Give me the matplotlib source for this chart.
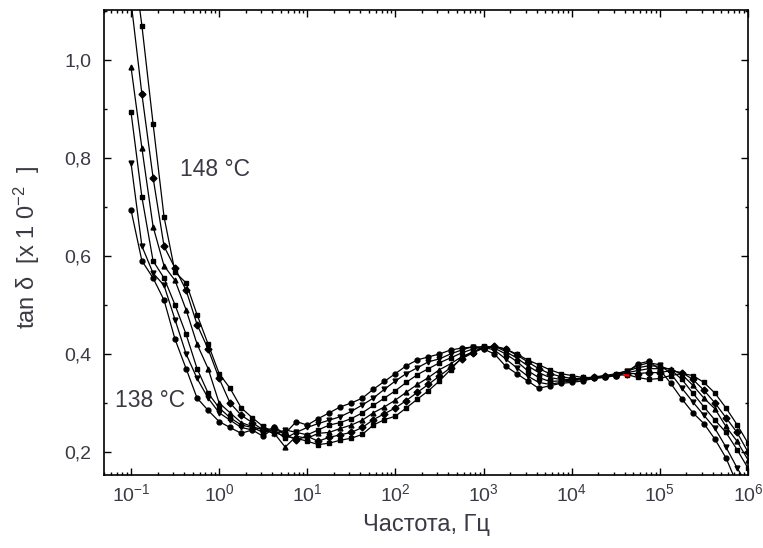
import numpy as np
import matplotlib.pyplot as plt
from matplotlib.ticker import MultipleLocator, LogLocator, FuncFormatter, NullFormatter

plt.rcParams['font.family'] = ['Liberation Sans', 'DejaVu Sans']
plt.rcParams['mathtext.fontset'] = 'custom'
plt.rcParams['mathtext.rm'] = 'Liberation Sans'
plt.rcParams['mathtext.it'] = 'Liberation Sans:italic'

# measurement frequencies, Hz (8 points per decade)
freq = [1.0e-1, 1.33e-1, 1.78e-1, 2.37e-1, 3.16e-1, 4.22e-1, 5.62e-1, 7.5e-1,
        1.0e0, 1.33e0, 1.78e0, 2.37e0, 3.16e0, 4.22e0, 5.62e0, 7.5e0,
        1.0e1, 1.33e1, 1.78e1, 2.37e1, 3.16e1, 4.22e1, 5.62e1, 7.5e1,
        1.0e2, 1.33e2, 1.78e2, 2.37e2, 3.16e2, 4.22e2, 5.62e2, 7.5e2,
        1.0e3, 1.33e3, 1.78e3, 2.37e3, 3.16e3, 4.22e3, 5.62e3, 7.5e3,
        1.0e4, 1.33e4, 1.78e4, 2.37e4, 3.16e4, 4.22e4, 5.62e4, 7.5e4,
        1.0e5, 1.33e5, 1.78e5, 2.37e5, 3.16e5, 4.22e5, 5.62e5, 7.5e5,
        1.0e6]

# tan delta [x10^-2] for 138 ... 148 C
tan_138 = [0.694, 0.590, 0.555, 0.510, 0.430, 0.370, 0.310, 0.285,
           0.262, 0.250, 0.238, 0.245, 0.232, 0.250, 0.238, 0.262,
           0.255, 0.268, 0.280, 0.292, 0.300, 0.310, 0.328, 0.344,
           0.360, 0.376, 0.388, 0.394, 0.400, 0.408, 0.412, 0.414,
           0.410, 0.400, 0.375, 0.360, 0.345, 0.330, 0.335, 0.340,
           0.342, 0.345, 0.350, 0.352, 0.356, 0.362, 0.380, 0.385,
           0.368, 0.340, 0.308, 0.280, 0.258, 0.226, 0.188, 0.135,
           0.100]
tan_140 = [0.790, 0.620, 0.565, 0.540, 0.470, 0.400, 0.350, 0.310,
           0.280, 0.265, 0.250, 0.245, 0.250, 0.236, 0.245, 0.240,
           0.250, 0.258, 0.265, 0.272, 0.283, 0.296, 0.310, 0.328,
           0.345, 0.360, 0.372, 0.384, 0.390, 0.400, 0.408, 0.415,
           0.414, 0.408, 0.390, 0.372, 0.355, 0.342, 0.338, 0.342,
           0.345, 0.348, 0.350, 0.354, 0.358, 0.366, 0.376, 0.382,
           0.378, 0.360, 0.330, 0.302, 0.275, 0.248, 0.210, 0.168,
           0.130]
tan_142 = [0.894, 0.720, 0.590, 0.555, 0.500, 0.440, 0.370, 0.320,
           0.290, 0.270, 0.255, 0.250, 0.240, 0.245, 0.228, 0.240,
           0.235, 0.245, 0.255, 0.260, 0.268, 0.280, 0.295, 0.310,
           0.325, 0.342, 0.358, 0.370, 0.382, 0.392, 0.402, 0.410,
           0.416, 0.412, 0.400, 0.385, 0.366, 0.352, 0.344, 0.345,
           0.346, 0.350, 0.352, 0.355, 0.360, 0.365, 0.372, 0.376,
           0.375, 0.368, 0.348, 0.320, 0.292, 0.265, 0.240, 0.205,
           0.167]
tan_144 = [0.986, 0.820, 0.660, 0.580, 0.550, 0.490, 0.420, 0.370,
           0.300, 0.280, 0.260, 0.252, 0.245, 0.238, 0.210, 0.232,
           0.228, 0.238, 0.240, 0.248, 0.255, 0.265, 0.280, 0.292,
           0.306, 0.322, 0.338, 0.352, 0.368, 0.380, 0.394, 0.404,
           0.414, 0.416, 0.405, 0.392, 0.376, 0.362, 0.352, 0.348,
           0.348, 0.350, 0.353, 0.356, 0.358, 0.362, 0.366, 0.370,
           0.370, 0.370, 0.358, 0.336, 0.310, 0.288, 0.252, 0.222,
           0.184]
tan_146 = [1.120, 0.930, 0.760, 0.620, 0.575, 0.530, 0.460, 0.410,
           0.350, 0.300, 0.275, 0.260, 0.245, 0.248, 0.235, 0.225,
           0.232, 0.222, 0.230, 0.235, 0.240, 0.250, 0.266, 0.278,
           0.290, 0.305, 0.322, 0.338, 0.355, 0.372, 0.390, 0.402,
           0.412, 0.416, 0.410, 0.398, 0.384, 0.370, 0.360, 0.354,
           0.350, 0.350, 0.352, 0.355, 0.357, 0.360, 0.360, 0.362,
           0.362, 0.366, 0.362, 0.348, 0.326, 0.300, 0.270, 0.240,
           0.200]
tan_148 = [1.240, 1.070, 0.870, 0.680, 0.567, 0.545, 0.480, 0.420,
           0.360, 0.330, 0.290, 0.270, 0.252, 0.240, 0.232, 0.228,
           0.222, 0.215, 0.218, 0.224, 0.228, 0.236, 0.255, 0.266,
           0.273, 0.290, 0.308, 0.325, 0.345, 0.368, 0.392, 0.404,
           0.412, 0.415, 0.410, 0.400, 0.388, 0.378, 0.368, 0.360,
           0.356, 0.352, 0.352, 0.354, 0.356, 0.358, 0.352, 0.348,
           0.350, 0.356, 0.360, 0.356, 0.342, 0.320, 0.290, 0.256,
           0.218]

series = [tan_138, tan_140, tan_142, tan_144, tan_146, tan_148]
markers = ['o', 'v', 's', '^', 'D', 's']

# single highlighted point near 4x10^4 Hz
red_f = [3.9e4, 4.4e4]
red_v = [0.357, 0.356]

decades = [1e-1, 1e0, 1e1, 1e2, 1e3, 1e4, 1e5, 1e6]

fig = plt.figure(figsize=(7.63, 5.48), dpi=100)
ax = fig.add_axes([104 / 763, 1 - 475 / 548, 644 / 763, 465 / 548])

for vals, m in zip(series, markers):
    ax.plot(freq, vals, color='black', lw=0.9, marker=m, ms=3.5,
            mfc='black', mec='black')
ax.plot(red_f, red_v, color='red', lw=1.6)

ax.set_xscale('log')
ax.set_xlim(0.0494, 1e6)
ax.set_ylim(0.153, 1.102)

txt_col = '#3a3a44'
ax.set_xticks(decades)
ax.xaxis.set_minor_locator(LogLocator(base=10, subs=np.arange(2, 10), numticks=20))
ax.xaxis.set_minor_formatter(NullFormatter())
ax.yaxis.set_major_locator(MultipleLocator(0.2))
ax.yaxis.set_minor_locator(MultipleLocator(0.1))
ax.yaxis.set_major_formatter(FuncFormatter(lambda v, p: f'{v:.1f}'.replace('.', ',')))

ax.tick_params(which='both', direction='in', top=True, right=True,
               labelsize=14, labelcolor=txt_col, width=1)
ax.tick_params(which='major', length=5)
ax.tick_params(which='minor', length=2.5)
ax.tick_params(axis='x', pad=6)
ax.tick_params(axis='y', pad=9)
for s in ax.spines.values():
    s.set_linewidth(1.2)

ax.set_xlabel('Частота, Гц', fontsize=17, color=txt_col, labelpad=6)
ax.set_ylabel('tan δ  [x 1 0$^{-2}$  ]', fontsize=17, color=txt_col)
ax.yaxis.set_label_coords(-0.097, 0.49)

ax.text(0.36, 0.776, '148 °C', fontsize=16.5, color=txt_col, va='center')
ax.text(0.066, 0.306, '138 °C', fontsize=16.5, color=txt_col, va='center')

fig.savefig('out.png', dpi=100)
